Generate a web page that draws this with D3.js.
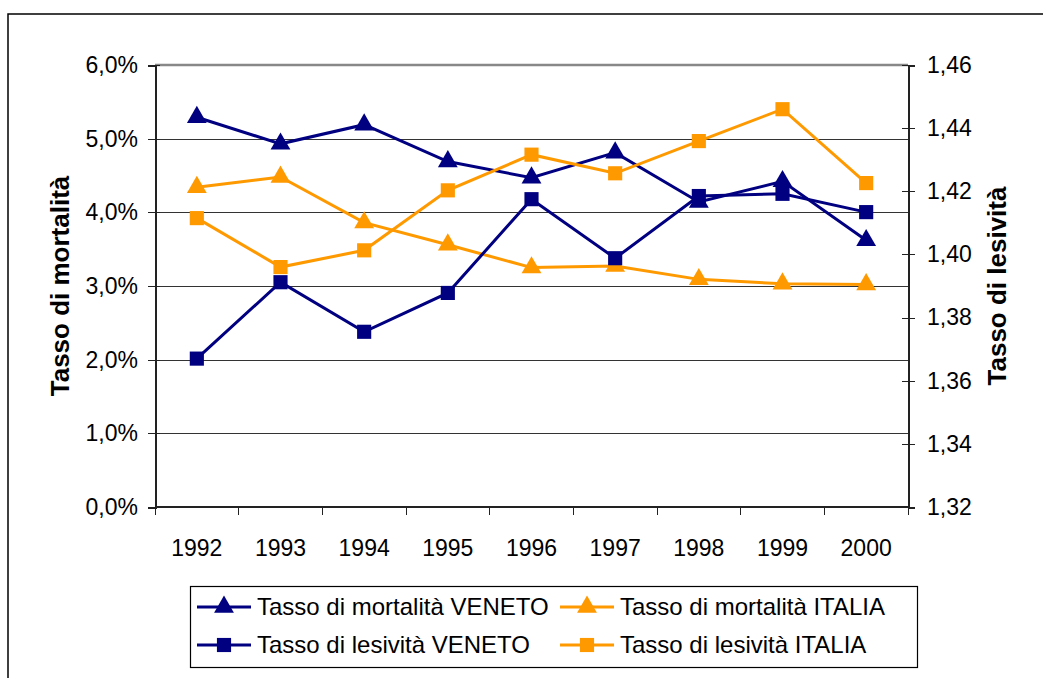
<!DOCTYPE html>
<meta charset="utf-8">
<style>
    body { margin: 0; background: #fff; }
    svg { font-family: "Liberation Sans", Arial, sans-serif; }
    .axis path, .axis line { fill: none; stroke: #222; shape-rendering: crispEdges; }
    .axis text { font-size: 23px; fill: #000; }
    .grid line { stroke: #333; shape-rendering: crispEdges; }
    .title { font-size: 26px; font-weight: bold; }
    .legend text { font-size: 24px; }
</style>
<body>
<script src="https://d3js.org/d3.v7.min.js"></script>
<script>
    // values
    const years = ["1992", "1993", "1994", "1995", "1996", "1997", "1998", "1999", "2000"];
    const mortVeneto = [0.0529, 0.0493, 0.0519, 0.0469, 0.0447, 0.0481, 0.0414, 0.0442, 0.0362];
    const mortItalia = [0.0434, 0.0448, 0.0386, 0.0356, 0.0325, 0.0327, 0.0309, 0.0303, 0.0302];
    const lesVeneto = [1.3670, 1.3912, 1.3755, 1.3878, 1.4175, 1.3988, 1.4185, 1.4192, 1.4134];
    const lesItalia = [1.4115, 1.3960, 1.4013, 1.4203, 1.4316, 1.4257, 1.4359, 1.4460, 1.4226];
    const leftTicks = [0, 0.01, 0.02, 0.03, 0.04, 0.05, 0.06];
    const rightTicks = [1.32, 1.34, 1.36, 1.38, 1.40, 1.42, 1.44, 1.46];

    const navy = "#000080", orange = "#FF9900";

    const series = [
        {name: "Tasso di mortalità VENETO", values: mortVeneto, axis: "left", color: navy, shape: d3.symbolTriangle},
        {name: "Tasso di mortalità ITALIA", values: mortItalia, axis: "left", color: orange, shape: d3.symbolTriangle},
        {name: "Tasso di lesività VENETO", values: lesVeneto, axis: "right", color: navy, shape: d3.symbolSquare},
        {name: "Tasso di lesività ITALIA", values: lesItalia, axis: "right", color: orange, shape: d3.symbolSquare}
    ];

    const W = 1043, H = 678;
    const plot = {left: 155, right: 908, top: 65, bottom: 507};

    const it = d3.formatLocale({decimal: ",", thousands: ".", grouping: [3], currency: ["€", ""]});

    const svg = d3.select("body").append("svg")
        .attr("width", W).attr("height", H);

    // outer chart frame (runs off the page on the right and bottom)
    svg.append("rect")
        .attr("x", 8).attr("y", 14)
        .attr("width", 1100).attr("height", 700)
        .attr("fill", "#fff").attr("stroke", "#000").attr("stroke-width", 1.5);

    const x = d3.scaleBand().domain(years).range([plot.left, plot.right]);
    const yL = d3.scaleLinear().domain([0, 0.06]).range([plot.bottom, plot.top]);
    const yR = d3.scaleLinear().domain([1.32, 1.46]).range([plot.bottom, plot.top]);

    // gridlines
    svg.append("g").attr("class", "grid")
        .selectAll("line")
        .data(leftTicks.slice(1, -1))
        .enter().append("line")
        .attr("x1", plot.left).attr("x2", plot.right)
        .attr("y1", d => Math.round(yL(d)) + 0.5)
        .attr("y2", d => Math.round(yL(d)) + 0.5);

    // top border of plot area (grey)
    svg.append("line")
        .attr("x1", plot.left).attr("x2", plot.right)
        .attr("y1", plot.top).attr("y2", plot.top)
        .attr("stroke", "#888").attr("stroke-width", 2.5);

    // left axis
    svg.append("g").attr("class", "axis")
        .attr("transform", "translate(" + plot.left + ",0)")
        .call(d3.axisLeft(yL).tickValues(leftTicks).tickFormat(it.format(".1%")).tickSize(7).tickPadding(10))
        .call(g => g.selectAll(".tick line").attr("x2", -7).attr("x1", 5))
        .call(g => g.select(".domain").attr("stroke-width", 2));

    // right axis
    svg.append("g").attr("class", "axis")
        .attr("transform", "translate(" + plot.right + ",0)")
        .call(d3.axisRight(yR).tickValues(rightTicks).tickFormat(it.format(".2f")).tickSize(7).tickPadding(12))
        .call(g => g.selectAll(".tick line").attr("x1", -6))
        .call(g => g.select(".domain").attr("stroke-width", 2));

    // bottom axis, ticks at category boundaries
    const xAxis = svg.append("g").attr("class", "axis")
        .attr("transform", "translate(0," + plot.bottom + ")");
    xAxis.append("line")
        .attr("x1", plot.left).attr("x2", plot.right)
        .attr("stroke", "#222").attr("stroke-width", 2);
    xAxis.selectAll(".bt")
        .data(years.concat(["end"]))
        .enter().append("line")
        .attr("x1", (d, i) => plot.left + i * x.step())
        .attr("x2", (d, i) => plot.left + i * x.step())
        .attr("y1", 0).attr("y2", 8);
    xAxis.selectAll("text")
        .data(years)
        .enter().append("text")
        .attr("x", d => x(d) + x.bandwidth() / 2)
        .attr("y", 49)
        .attr("text-anchor", "middle")
        .text(d => d);

    // axis titles
    svg.append("text").attr("class", "title")
        .attr("transform", "translate(69," + (plot.top + plot.bottom) / 2 + ") rotate(-90)")
        .attr("text-anchor", "middle")
        .text("Tasso di mortalità");
    svg.append("text").attr("class", "title")
        .attr("transform", "translate(1006," + (plot.top + plot.bottom) / 2 + ") rotate(-90)")
        .attr("text-anchor", "middle")
        .text("Tasso di lesività");

    // lines + markers
    const cx = i => x(years[i]) + x.bandwidth() / 2;
    series.forEach(s => {
        const y = s.axis === "left" ? yL : yR;
        const line = d3.line().x((d, i) => cx(i)).y(d => y(d));
        svg.append("path")
            .datum(s.values)
            .attr("d", line)
            .attr("fill", "none")
            .attr("stroke", s.color)
            .attr("stroke-width", 3);
        svg.append("g").selectAll("path")
            .data(s.values)
            .enter().append("path")
            .attr("d", d3.symbol().type(s.shape).size(s.shape === d3.symbolSquare ? 200 : 170))
            .attr("transform", (d, i) => "translate(" + cx(i) + "," + y(d) + ")")
            .attr("fill", s.color);
    });

    // legend
    const legend = svg.append("g").attr("class", "legend");
    legend.append("rect")
        .attr("x", 190.5).attr("y", 586.5)
        .attr("width", 727).attr("height", 81)
        .attr("fill", "#fff").attr("stroke", "#000").attr("stroke-width", 1.2);

    const legPos = [[197, 607], [560, 607], [197, 645], [560, 645]];
    const items = legend.selectAll(".item")
        .data(series)
        .enter().append("g")
        .attr("class", "item")
        .attr("transform", (d, i) => "translate(" + legPos[i][0] + "," + legPos[i][1] + ")");
    items.append("line")
        .attr("x1", 0).attr("x2", 54)
        .attr("stroke", d => d.color).attr("stroke-width", 3);
    items.append("path")
        .attr("d", d => d3.symbol().type(d.shape).size(d.shape === d3.symbolSquare ? 200 : 170)())
        .attr("transform", "translate(27,0)")
        .attr("fill", d => d.color);
    items.append("text")
        .attr("x", 60).attr("dy", "0.35em")
        .text(d => d.name);
</script>
</body>
</html>
